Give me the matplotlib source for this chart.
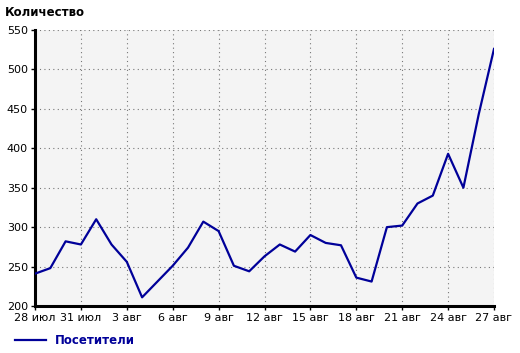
import numpy as np
import matplotlib.pyplot as plt

days = ['28 июл', '29 июл', '30 июл', '31 июл'] + ['%d авг' % d for d in range(1, 28)]
visitors = [241, 248, 282, 278, 310, 278, 256, 211, 231, 251, 274, 307, 295, 251,
            244, 263, 278, 269, 290, 280, 277, 236, 231, 300, 302, 330, 340, 393,
            350, 443, 526]
yticks = [200, 250, 300, 350, 400, 450, 500, 550]

plt.rcParams['font.family'] = ['DejaVu Sans']
plt.rcParams['font.size'] = 8

fig = plt.figure(figsize=(5.2, 3.53), dpi=100)
ax = fig.add_axes([35/520, 1-306/353, (494-35)/520, (306-30)/353])
ax.set_facecolor('#f4f4f4')

x = np.arange(len(visitors))
ax.plot(x, visitors, color='#000099', lw=1.6, label='Посетители', zorder=3)

ax.set_xlim(0, len(visitors) - 1)
ax.set_ylim(200, 550)
ax.set_xticks(x[::3])
ax.set_xticklabels(days[::3])
ax.set_yticks(yticks)
ax.grid(True, linestyle=(0, (1, 3)), color='#777777', lw=0.8)
for s in ['top', 'right']:
    ax.spines[s].set_visible(False)
for s in ['left', 'bottom']:
    ax.spines[s].set_linewidth(2.2)
ax.tick_params(direction='out', length=3, width=1, pad=2)

fig.text(5/520, 1-12/353, 'Количество', fontweight='bold', fontsize=8.5, va='center')
fig.legend(loc='center left', bbox_to_anchor=(15/520, 1-341/353), frameon=False,
           prop={'weight': 'bold', 'size': 8.5}, labelcolor='#000099',
           handlelength=2.6, handletextpad=0.8, borderpad=0, borderaxespad=0)

plt.savefig('out.png')
